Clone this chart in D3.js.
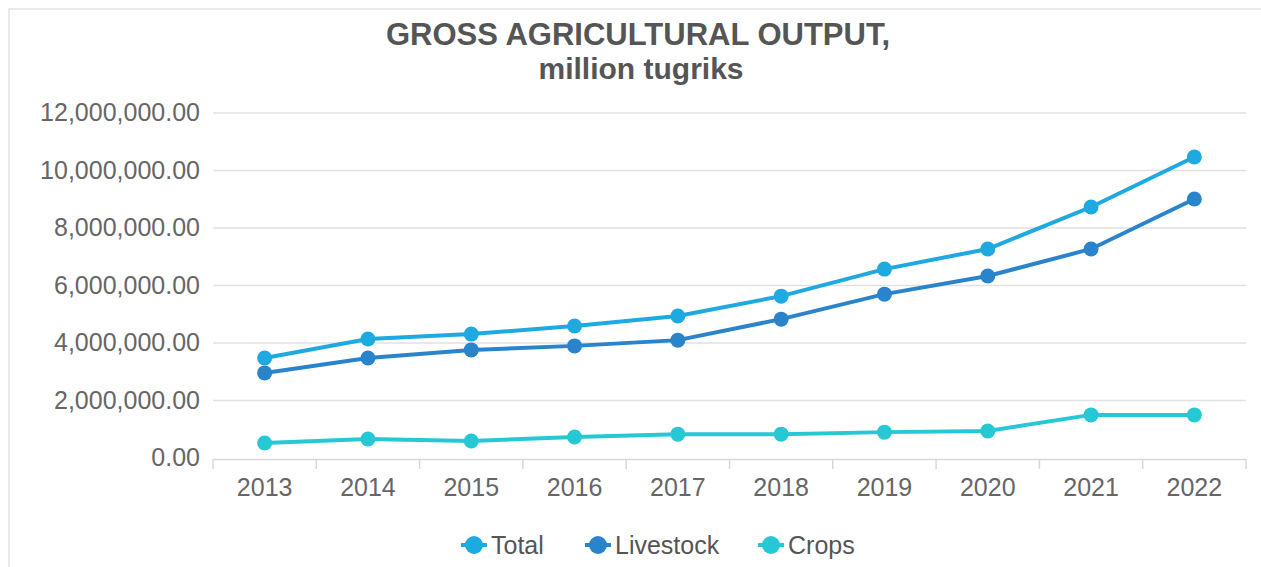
<!DOCTYPE html>
<html lang="en">
<head>
<meta charset="utf-8">
<title>Gross agricultural output</title>
<script src="https://cdn.jsdelivr.net/npm/d3@7"></script>
<style>
  body { margin: 0; background: #fff; }
  text { font-family: "Liberation Sans", Arial, sans-serif; }
</style>
</head>
<body>
<script>
// data (million tugriks)
var years = ["2013", "2014", "2015", "2016", "2017", "2018", "2019", "2020", "2021", "2022"];
var total = [3480000, 4140000, 4310000, 4590000, 4940000, 5630000, 6570000, 7270000, 8730000, 10470000];
var livestock = [2960000, 3480000, 3760000, 3900000, 4100000, 4830000, 5700000, 6330000, 7270000, 9010000];
var crops = [520000, 660000, 590000, 730000, 830000, 830000, 900000, 940000, 1500000, 1500000];
var yTicks = [0, 2000000, 4000000, 6000000, 8000000, 10000000, 12000000];

var seriesNames = ["Total", "Livestock", "Crops"];
var seriesColors = ["#1fa9e1", "#2a84cc", "#27c8d5"];
var seriesData = [total, livestock, crops];

var W = 1261, H = 567;
var plotLeft = 213, plotRight = 1246, plotTop = 113, plotBottom = 458;

var svg = d3.select("body").append("svg")
  .attr("width", W)
  .attr("height", H);

// frame
svg.append("rect")
  .attr("x", 9).attr("y", 9)
  .attr("width", W).attr("height", H)
  .attr("fill", "none")
  .attr("stroke", "#e3e3e3")
  .attr("stroke-width", 1.5);

var x = d3.scaleBand().domain(years).range([plotLeft, plotRight]);
var y = d3.scaleLinear().domain([0, 12000000]).range([plotBottom, plotTop]);

// gridlines
svg.append("g")
  .selectAll("line")
  .data(yTicks.slice(1))
  .enter()
  .append("line")
  .attr("x1", plotLeft).attr("x2", plotRight)
  .attr("y1", function(d) { return y(d); })
  .attr("y2", function(d) { return y(d); })
  .attr("stroke", "#e1e1e1")
  .attr("stroke-width", 1.5);

// y axis labels
var fmt = d3.format(",.2f");
svg.append("g")
  .selectAll("text")
  .data(yTicks)
  .enter()
  .append("text")
  .attr("x", 200)
  .attr("y", function(d) { return y(d) + 8; })
  .attr("text-anchor", "end")
  .attr("font-size", "25px")
  .attr("fill", "#666")
  .text(function(d) { return fmt(d); });

// x axis
var xAxis = svg.append("g")
  .attr("transform", "translate(0," + (plotBottom + 1) + ")")
  .call(d3.axisBottom(x).tickSize(0).tickPadding(19));
xAxis.select(".domain").attr("stroke", "#d8d8d8").attr("stroke-width", 1.5);
xAxis.selectAll("text")
  .attr("font-size", "25px")
  .attr("fill", "#666")
  .style("font-family", "'Liberation Sans', Arial, sans-serif");

// ticks at band edges
var edges = years.map(function(d) { return x(d); }).concat([plotRight]);
svg.append("g")
  .selectAll("line")
  .data(edges)
  .enter()
  .append("line")
  .attr("x1", function(d) { return d; })
  .attr("x2", function(d) { return d; })
  .attr("y1", plotBottom + 1)
  .attr("y2", plotBottom + 11)
  .attr("stroke", "#d8d8d8")
  .attr("stroke-width", 1.5);

var cx = function(d, i) { return x(years[i]) + x.bandwidth() / 2; };

var line = d3.line()
  .x(cx)
  .y(function(d) { return y(d); });

// draw bottom series first so Total sits on top
[2, 1, 0].forEach(function(k) {
  var g = svg.append("g");
  g.append("path")
    .datum(seriesData[k])
    .attr("d", line)
    .attr("fill", "none")
    .attr("stroke", seriesColors[k])
    .attr("stroke-width", 4);
  g.selectAll("circle")
    .data(seriesData[k])
    .enter()
    .append("circle")
    .attr("cx", cx)
    .attr("cy", function(d) { return y(d); })
    .attr("r", 7.5)
    .attr("fill", seriesColors[k]);
});

// title
svg.append("text")
  .attr("x", 638).attr("y", 45)
  .attr("text-anchor", "middle")
  .attr("font-size", "31px")
  .attr("font-weight", "bold")
  .attr("fill", "#555")
  .text("GROSS AGRICULTURAL OUTPUT,");
svg.append("text")
  .attr("x", 641).attr("y", 79)
  .attr("text-anchor", "middle")
  .attr("font-size", "30px")
  .attr("font-weight", "bold")
  .attr("fill", "#555")
  .text("million tugriks");

// legend
var legendX = [474, 598, 771];
var legend = svg.append("g")
  .selectAll("g")
  .data(seriesNames)
  .enter()
  .append("g")
  .attr("transform", function(d, i) { return "translate(" + legendX[i] + ",545)"; });
legend.append("line")
  .attr("x1", -13).attr("x2", 13)
  .attr("stroke", function(d, i) { return seriesColors[i]; })
  .attr("stroke-width", 4);
legend.append("circle")
  .attr("r", 9)
  .attr("fill", function(d, i) { return seriesColors[i]; });
legend.append("text")
  .attr("x", 17).attr("y", 9)
  .attr("font-size", "25px")
  .attr("fill", "#555")
  .text(function(d) { return d; });
</script>
</body>
</html>
